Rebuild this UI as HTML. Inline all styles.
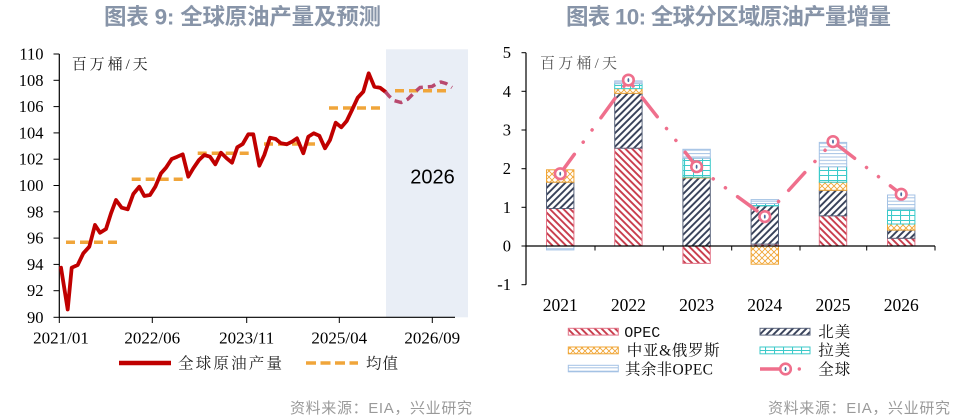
<!DOCTYPE html>
<html><head><meta charset="utf-8">
<style>
html,body{margin:0;padding:0;background:#fff;}
svg{display:block;}
.ser{font-family:"Liberation Serif","Noto Serif CJK SC",serif;}
.cjk{font-family:"Liberation Serif","Noto Serif CJK SC",serif;}
.mono{font-family:"Liberation Mono","Noto Serif CJK SC",monospace;}
.sans{font-family:"Liberation Sans","Noto Sans CJK SC",sans-serif;}
</style></head>
<body>
<svg width="970" height="420" viewBox="0 0 970 420" xmlns="http://www.w3.org/2000/svg">
<defs>
  <pattern id="pOpec" patternUnits="userSpaceOnUse" width="4.8" height="4.8" patternTransform="rotate(-45)">
    <rect width="4.8" height="4.8" fill="#fff"/>
    <line x1="1" y1="0" x2="1" y2="4.8" stroke="#c83c4c" stroke-width="1.9"/>
  </pattern>
  <pattern id="pNa" patternUnits="userSpaceOnUse" width="4.8" height="4.8" patternTransform="rotate(45)">
    <rect width="4.8" height="4.8" fill="#fff"/>
    <line x1="1" y1="0" x2="1" y2="4.8" stroke="#364058" stroke-width="1.9"/>
  </pattern>
  <pattern id="pCar" patternUnits="userSpaceOnUse" width="6" height="6">
    <rect width="6" height="6" fill="#fff"/>
    <path d="M0,0 L6,6 M6,0 L0,6" stroke="#f0a535" stroke-width="0.9"/>
  </pattern>
  <pattern id="pLat" patternUnits="userSpaceOnUse" width="9" height="5">
    <rect width="9" height="5" fill="#fff"/>
    <path d="M0,0.5 H9 M0.5,0 V5" stroke="#3ccaca" stroke-width="1.1"/>
  </pattern>
  <pattern id="pOth" patternUnits="userSpaceOnUse" width="6" height="3.4">
    <rect width="6" height="3.4" fill="#fff"/>
    <path d="M0,0.6 H6" stroke="#a4c2e4" stroke-width="1"/>
  </pattern>
</defs>

<rect width="970" height="420" fill="#fff"/>

<!-- Titles -->
<text x="104" y="24.5" class="sans" font-size="22.5" font-weight="700" fill="#8794a8" textLength="277" lengthAdjust="spacing">图表 9:  全球原油产量及预测</text>
<text x="566" y="24.5" class="sans" font-size="22.5" font-weight="700" fill="#8794a8" textLength="325" lengthAdjust="spacing">图表 10: 全球分区域原油产量增量</text>

<!-- ============ LEFT CHART ============ -->
<rect x="386" y="49.3" width="82" height="268" fill="#e9eef6"/>

<!-- axes -->
<line x1="59.3" y1="54" x2="59.3" y2="317.3" stroke="#000" stroke-width="1.2"/>
<line x1="59.3" y1="317.3" x2="455" y2="317.3" stroke="#000" stroke-width="1.2"/>
<g stroke="#000" stroke-width="1">
  <line x1="53.5" y1="54" x2="59.3" y2="54"/>
  <line x1="53.5" y1="80.3" x2="59.3" y2="80.3"/>
  <line x1="53.5" y1="106.6" x2="59.3" y2="106.6"/>
  <line x1="53.5" y1="132.9" x2="59.3" y2="132.9"/>
  <line x1="53.5" y1="159.2" x2="59.3" y2="159.2"/>
  <line x1="53.5" y1="185.5" x2="59.3" y2="185.5"/>
  <line x1="53.5" y1="211.8" x2="59.3" y2="211.8"/>
  <line x1="53.5" y1="238.1" x2="59.3" y2="238.1"/>
  <line x1="53.5" y1="264.4" x2="59.3" y2="264.4"/>
  <line x1="53.5" y1="290.7" x2="59.3" y2="290.7"/>
  <line x1="53.5" y1="317.3" x2="59.3" y2="317.3"/>
  <line x1="59.3" y1="317.3" x2="59.3" y2="323"/>
  <line x1="152.3" y1="317.3" x2="152.3" y2="323"/>
  <line x1="246.7" y1="317.3" x2="246.7" y2="323"/>
  <line x1="339.3" y1="317.3" x2="339.3" y2="323"/>
  <line x1="432.3" y1="317.3" x2="432.3" y2="323"/>
</g>
<g class="ser" font-size="16.5" fill="#000" text-anchor="end">
  <text x="43.5" y="59.5">110</text>
  <text x="43.5" y="85.8">108</text>
  <text x="43.5" y="112.1">106</text>
  <text x="43.5" y="138.4">104</text>
  <text x="43.5" y="164.7">102</text>
  <text x="43.5" y="191">100</text>
  <text x="43.5" y="217.3">98</text>
  <text x="43.5" y="243.6">96</text>
  <text x="43.5" y="269.9">94</text>
  <text x="43.5" y="296.2">92</text>
  <text x="43.5" y="322.8">90</text>
</g>
<g class="ser" font-size="17" fill="#000" text-anchor="middle">
  <text x="61" y="343.5">2021/01</text>
  <text x="152.3" y="343.5">2022/06</text>
  <text x="246.7" y="343.5">2023/11</text>
  <text x="339.3" y="343.5">2025/04</text>
  <text x="432.3" y="343.5">2026/09</text>
</g>

<text x="71.7" y="69" class="cjk" font-size="15" fill="#222" textLength="76" lengthAdjust="spacing">百万桶/天</text>
<text x="432.5" y="183.5" class="sans" font-size="20" fill="#000" text-anchor="middle">2026</text>

<!-- mean dashes -->
<g stroke="#f0a53a" stroke-width="3.5" stroke-dasharray="9 5" fill="none">
  <line x1="66" y1="242.3" x2="118" y2="242.3"/>
  <line x1="131.7" y1="179.3" x2="185" y2="179.3"/>
  <line x1="197.7" y1="153.3" x2="250" y2="153.3"/>
  <line x1="264" y1="144" x2="315" y2="144"/>
  <line x1="329" y1="108" x2="383" y2="108"/>
  <line x1="395" y1="90.7" x2="448" y2="90.7"/>
</g>

<!-- production line -->
<polyline fill="none" stroke="#c00000" stroke-width="3.8" stroke-linejoin="round" stroke-linecap="round"
 points="61,267.7 67.7,309.5 71.7,267.7 77.7,265 83.3,253.3 89.3,246.7 95,225 100,232.7 106,229 111,213.3 116,200 121.7,207.7 127.7,209.3 133.3,194 139.3,186.7 144.3,196 150,195 155.3,186.7 161,173.3 166,167.7 171.7,159 177.3,156.7 182.7,154.3 188.3,176.7 193.3,168.3 199,160 204.3,155 210,156.7 215.3,164.3 221,152.7 226.7,158.3 232,162.7 237.3,147.3 242.7,144 248.3,134.3 253.3,134.3 259.3,165.7 264.3,155 270,137.7 275.7,139 281,143.3 286.7,144.3 292,141.7 297,138.3 303.3,153.3 308.3,136.7 313.7,133.3 319.3,135.7 325,148.3 330,140 335.7,122.7 341.3,127.3 346.7,121 352,110 357.7,97.7 363.3,91.7 368.7,73.3 374.3,86.7 380,87.7 385.3,91.7"/>
<!-- forecast -->
<polyline fill="none" stroke="#b9496e" stroke-width="3.5" stroke-dasharray="8 5" stroke-linejoin="round"
 points="385.3,91.7 389,96 394,100.5 401,102.5 408,99 414,93 420,87.5 426,87 432,86.5 437,83.5 441,82 446,83.5 452,87.5"/>

<!-- left legend -->
<line x1="119" y1="363" x2="171" y2="363" stroke="#c00000" stroke-width="4.5"/>
<text x="178" y="368.5" class="cjk" font-size="15.5" fill="#222" textLength="104" lengthAdjust="spacing">全球原油产量</text>
<line x1="306" y1="363" x2="358" y2="363" stroke="#f0a53a" stroke-width="3.5" stroke-dasharray="10 4.5"/>
<text x="366" y="368.5" class="cjk" font-size="15.5" fill="#222" textLength="32" lengthAdjust="spacing">均值</text>

<text x="290" y="413" class="sans" font-size="15" fill="#9a9a9a" textLength="182" lengthAdjust="spacing">资料来源：EIA，兴业研究</text>

<!-- ============ RIGHT CHART ============ -->
<text x="540" y="68" class="cjk" font-size="15" fill="#555" textLength="77" lengthAdjust="spacing">百万桶/天</text>

<!-- bars -->
<g stroke-width="1">
  <!-- 2021 -->
  <rect x="546.5" y="208.5" width="27.4" height="37.5" fill="url(#pOpec)" stroke="#e27488"/>
  <rect x="546.5" y="182.2" width="27.4" height="26.3" fill="url(#pNa)" stroke="#5a647c"/>
  <rect x="546.5" y="169.8" width="27.4" height="12.4" fill="url(#pCar)" stroke="#f0a535"/>
  <rect x="546.5" y="246" width="27.4" height="3.9" fill="url(#pOth)" stroke="#a4c2e4"/>
  <!-- 2022 -->
  <rect x="614.7" y="148.2" width="27.4" height="97.8" fill="url(#pOpec)" stroke="#e27488"/>
  <rect x="614.7" y="93.3" width="27.4" height="54.9" fill="url(#pNa)" stroke="#5a647c"/>
  <rect x="614.7" y="88.6" width="27.4" height="4.7" fill="url(#pCar)" stroke="#f0a535"/>
  <rect x="614.7" y="83.6" width="27.4" height="5" fill="url(#pLat)" stroke="#3ccaca"/>
  <rect x="614.7" y="80.9" width="27.4" height="2.7" fill="url(#pOth)" stroke="#a4c2e4"/>
  <!-- 2023 -->
  <rect x="682.9" y="246" width="27.4" height="17.4" fill="url(#pOpec)" stroke="#e27488"/>
  <rect x="682.9" y="177.9" width="27.4" height="68.1" fill="url(#pNa)" stroke="#5a647c"/>
  <rect x="682.9" y="177.2" width="27.4" height="0.7" fill="url(#pCar)" stroke="#f0a535"/>
  <rect x="682.9" y="158.2" width="27.4" height="19" fill="url(#pLat)" stroke="#3ccaca"/>
  <rect x="682.9" y="149.3" width="27.4" height="8.9" fill="url(#pOth)" stroke="#a4c2e4"/>
  <!-- 2024 -->
  <rect x="751.1" y="246" width="27.4" height="18.2" fill="url(#pCar)" stroke="#f0a535"/>
  <rect x="751.1" y="244.1" width="27.4" height="1.9" fill="url(#pOpec)" stroke="#e27488"/>
  <rect x="751.1" y="205.8" width="27.4" height="38.3" fill="url(#pNa)" stroke="#5a647c"/>
  <rect x="751.1" y="203.5" width="27.4" height="2.3" fill="url(#pLat)" stroke="#3ccaca"/>
  <rect x="751.1" y="199.6" width="27.4" height="3.9" fill="url(#pOth)" stroke="#a4c2e4"/>
  <!-- 2025 -->
  <rect x="819.3" y="215.8" width="27.4" height="30.2" fill="url(#pOpec)" stroke="#e27488"/>
  <rect x="819.3" y="190.3" width="27.4" height="25.5" fill="url(#pNa)" stroke="#5a647c"/>
  <rect x="819.3" y="182.2" width="27.4" height="8.1" fill="url(#pCar)" stroke="#f0a535"/>
  <rect x="819.3" y="166.7" width="27.4" height="15.5" fill="url(#pLat)" stroke="#3ccaca"/>
  <rect x="819.3" y="142.4" width="27.4" height="24.3" fill="url(#pOth)" stroke="#a4c2e4"/>
  <!-- 2026 -->
  <rect x="887.5" y="238.3" width="27.4" height="7.7" fill="url(#pOpec)" stroke="#e27488"/>
  <rect x="887.5" y="230.1" width="27.4" height="8.2" fill="url(#pNa)" stroke="#5a647c"/>
  <rect x="887.5" y="224" width="27.4" height="6.1" fill="url(#pCar)" stroke="#f0a535"/>
  <rect x="887.5" y="209.3" width="27.4" height="14.7" fill="url(#pLat)" stroke="#3ccaca"/>
  <rect x="887.5" y="195" width="27.4" height="14.3" fill="url(#pOth)" stroke="#a4c2e4"/>
</g>

<!-- right axes -->
<line x1="526" y1="52.7" x2="526" y2="284.7" stroke="#000" stroke-width="1.2"/>
<line x1="526" y1="246" x2="935" y2="246" stroke="#000" stroke-width="1.2"/>
<g stroke="#000" stroke-width="1">
  <line x1="521.5" y1="52.7" x2="526" y2="52.7"/>
  <line x1="521.5" y1="91.3" x2="526" y2="91.3"/>
  <line x1="521.5" y1="130" x2="526" y2="130"/>
  <line x1="521.5" y1="168.7" x2="526" y2="168.7"/>
  <line x1="521.5" y1="207.3" x2="526" y2="207.3"/>
  <line x1="521.5" y1="246" x2="526" y2="246"/>
  <line x1="521.5" y1="284.7" x2="526" y2="284.7"/>
  <line x1="595" y1="246" x2="595" y2="250.5"/>
  <line x1="663.3" y1="246" x2="663.3" y2="250.5"/>
  <line x1="731.7" y1="246" x2="731.7" y2="250.5"/>
  <line x1="800" y1="246" x2="800" y2="250.5"/>
  <line x1="866.7" y1="246" x2="866.7" y2="250.5"/>
  <line x1="935" y1="246" x2="935" y2="250.5"/>
</g>
<g class="ser" font-size="16.5" fill="#000" text-anchor="end">
  <text x="511" y="58.2">5</text>
  <text x="511" y="96.8">4</text>
  <text x="511" y="135.5">3</text>
  <text x="511" y="174.2">2</text>
  <text x="511" y="212.8">1</text>
  <text x="511" y="251.5">0</text>
  <text x="511" y="290.2">-1</text>
</g>
<g class="ser" font-size="17.5" fill="#000" text-anchor="middle">
  <text x="560.2" y="311">2021</text>
  <text x="628.4" y="311">2022</text>
  <text x="696.6" y="311">2023</text>
  <text x="764.8" y="311">2024</text>
  <text x="833" y="311">2025</text>
  <text x="901.2" y="311">2026</text>
</g>

<!-- global line -->
<polyline fill="none" stroke="#ef6f8c" stroke-width="3.5" stroke-linecap="round" stroke-linejoin="round"
 stroke-dasharray="24 15 0.1 15 0.1 15"
 points="560.2,173.7 628.4,80.1 696.6,166.7 764.8,216.6 833,141.6 901.2,194.2"/>
<g stroke="#ef6f8c" stroke-width="2.6" fill="#fff">
  <circle cx="560.2" cy="173.7" r="5.3"/>
  <circle cx="628.4" cy="80.1" r="5.3"/>
  <circle cx="696.6" cy="166.7" r="5.3"/>
  <circle cx="764.8" cy="216.6" r="5.3"/>
  <circle cx="833" cy="141.6" r="5.3"/>
  <circle cx="901.2" cy="194.2" r="5.3"/>
</g>
<g fill="#4a6a9c">
  <ellipse cx="560.2" cy="173.7" rx="0.9" ry="2"/>
  <ellipse cx="628.4" cy="80.1" rx="0.9" ry="2"/>
  <ellipse cx="696.6" cy="166.7" rx="0.9" ry="2"/>
  <ellipse cx="764.8" cy="216.6" rx="0.9" ry="2"/>
  <ellipse cx="833" cy="141.6" rx="0.9" ry="2"/>
  <ellipse cx="901.2" cy="194.2" rx="0.9" ry="2"/>
</g>

<!-- right legend -->
<rect x="568.3" y="328.3" width="50" height="6.8" fill="url(#pOpec)" stroke="#e27488"/>
<text x="624.3" y="337" class="mono" font-size="15" fill="#111" textLength="36" lengthAdjust="spacing">OPEC</text>
<rect x="760" y="328.3" width="50" height="6.8" fill="url(#pNa)" stroke="#5a647c"/>
<text x="818.3" y="337" class="cjk" font-size="15.5" fill="#111" textLength="32" lengthAdjust="spacing">北美</text>

<rect x="568.3" y="347" width="50" height="6.8" fill="url(#pCar)" stroke="#f0a535"/>
<text x="626.7" y="355.5" class="cjk" font-size="15.5" fill="#111" textLength="93" lengthAdjust="spacing">中亚&amp;俄罗斯</text>
<rect x="760" y="347" width="50" height="6.8" fill="url(#pLat)" stroke="#3ccaca"/>
<text x="818.3" y="355.5" class="cjk" font-size="15.5" fill="#111" textLength="32" lengthAdjust="spacing">拉美</text>

<rect x="568.3" y="365.3" width="50" height="6.5" fill="url(#pOth)" stroke="#a4c2e4"/>
<text x="625" y="374.5" class="cjk" font-size="15.5" fill="#111" textLength="88" lengthAdjust="spacing">其余非OPEC</text>
<line x1="760" y1="369" x2="781" y2="369" stroke="#ef6f8c" stroke-width="3.5"/>
<circle cx="785.5" cy="369" r="5.3" stroke="#ef6f8c" stroke-width="2.6" fill="#fff"/>
<ellipse cx="785.5" cy="369" rx="0.9" ry="2" fill="#4a6a9c"/>
<circle cx="799.3" cy="369" r="1.7" fill="#ef6f8c"/>
<text x="818.3" y="374.5" class="cjk" font-size="15.5" fill="#111" textLength="32" lengthAdjust="spacing">全球</text>

<text x="768" y="413" class="sans" font-size="15" fill="#9a9a9a" textLength="182" lengthAdjust="spacing">资料来源：EIA，兴业研究</text>
</svg>
</body></html>
